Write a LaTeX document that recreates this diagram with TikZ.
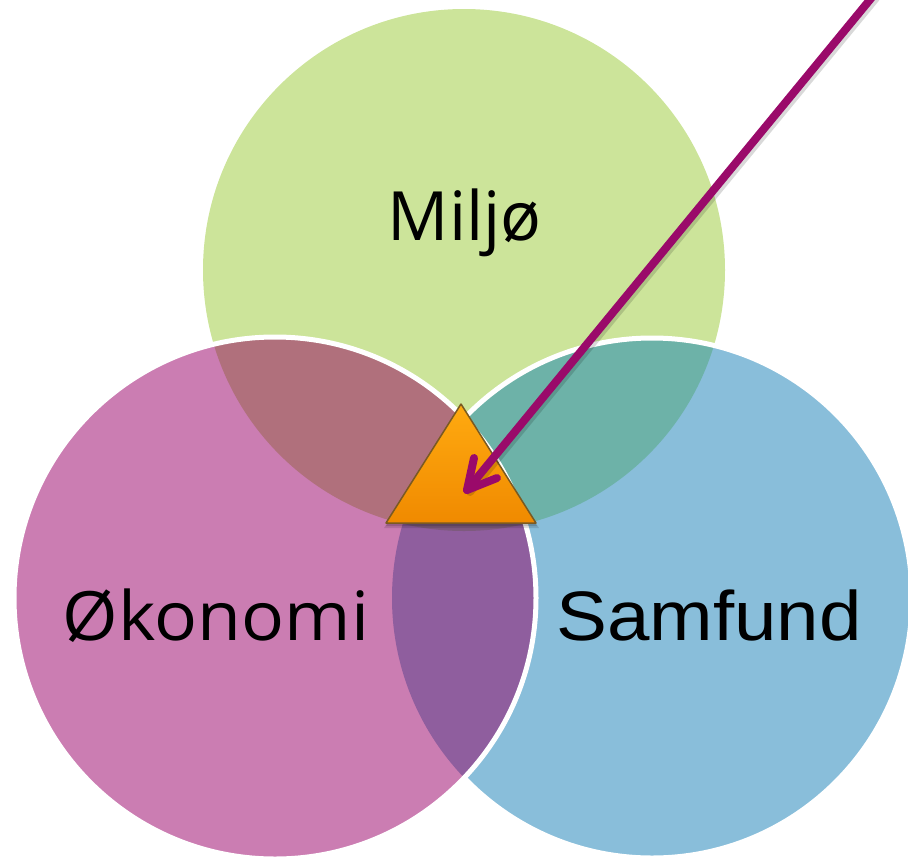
\documentclass[tikz,border=0pt]{standalone}
\usepackage{fontspec}
\setmainfont{Open Sans}
\newfontfamily\arialfont{Liberation Sans}
\definecolor{miljoC}{HTML}{CCE49A}
\definecolor{okonC}{HTML}{CB7DB2}
\definecolor{samfC}{HTML}{89BEDA}
\definecolor{brownC}{HTML}{B0707C}
\definecolor{tealC}{HTML}{6DB2A8}
\definecolor{purpC}{HTML}{8F5E9E}
\definecolor{tripleC}{HTML}{7E5A7E}
\definecolor{arrowC}{HTML}{9A0A6A}
\definecolor{triTop}{HTML}{FFAA10}
\definecolor{triBot}{HTML}{F08A00}
\definecolor{triEdge}{HTML}{7A5A22}
\tikzset{
  ring/.style={draw=white, line width=5pt},
  label/.style={anchor=base, inner sep=0, text=black, font=\fontsize{68}{80}\selectfont},
  pointer/.style={draw=arrowC, line width=8pt, line cap=round, line join=round},
}
\begin{document}
\begin{tikzpicture}[x=1pt,y=-1pt]
\useasboundingbox (0,0) rectangle (908,857);
\coordinate (cM) at (464,270);
\coordinate (cO) at (275,598);
\coordinate (cS) at (652,598);
\def\circM{(cM) circle[radius=261]}
\def\circO{(cO) circle[radius=261]}
\def\circS{(cS) circle[radius=260]}

% environment circle
\fill[miljoC] \circM;

% society circle and its overlap with the environment
\fill[samfC] \circS;
\begin{scope}
  \clip \circM;
  \fill[tealC] \circS;
\end{scope}
\draw[ring] \circS;

% economy circle and its overlaps
\fill[okonC] \circO;
\begin{scope}
  \clip \circO;
  \fill[brownC] \circM;
  \fill[purpC] \circS;
  \clip \circM;
  \fill[tripleC] \circS;
\end{scope}
\draw[ring] \circO;

% labels
\node[label] (miljo) at (465,240) {Miljø};
\node[label] (okon) at (216,640) {\scalebox{1.05}[1]{Økonomi}};
\node[label, font=\arialfont\fontsize{70}{84}\selectfont] (samf) at (709,640) {\scalebox{1.09}[1]{Samfund}};

% centre triangle
\coordinate (tA) at (461,404);
\coordinate (tB) at (386,523);
\coordinate (tC) at (536,523);
\fill[black, opacity=0.12] ([shift={(1,5)}]tA) -- ([shift={(-2,5)}]tB) -- ([shift={(3,5)}]tC) -- cycle;
\fill[black, opacity=0.15] ([shift={(1,3)}]tA) -- ([shift={(0,3)}]tB) -- ([shift={(1,3)}]tC) -- cycle;
\shade[top color=triTop, bottom color=triBot] (tA) -- (tB) -- (tC) -- cycle;
\draw[triEdge, line width=1.5pt, line join=round] (tA) -- (tB) -- (tC) -- cycle;

% pointer: soft shadow, shaft, and an open barb at the tip
\coordinate (pStart) at (873,-4);
\coordinate (pTip) at (467,490);
\coordinate (barbA) at (474,458);
\coordinate (barbB) at (497,478);
\draw[pointer, draw=black, opacity=0.15]
  ([shift={(3,2)}]pStart) -- ([shift={(3,2)}]pTip);
\draw[pointer] (pStart) -- (pTip);
\draw[pointer] (barbA) -- (pTip) -- (barbB);
\end{tikzpicture}
\end{document}
